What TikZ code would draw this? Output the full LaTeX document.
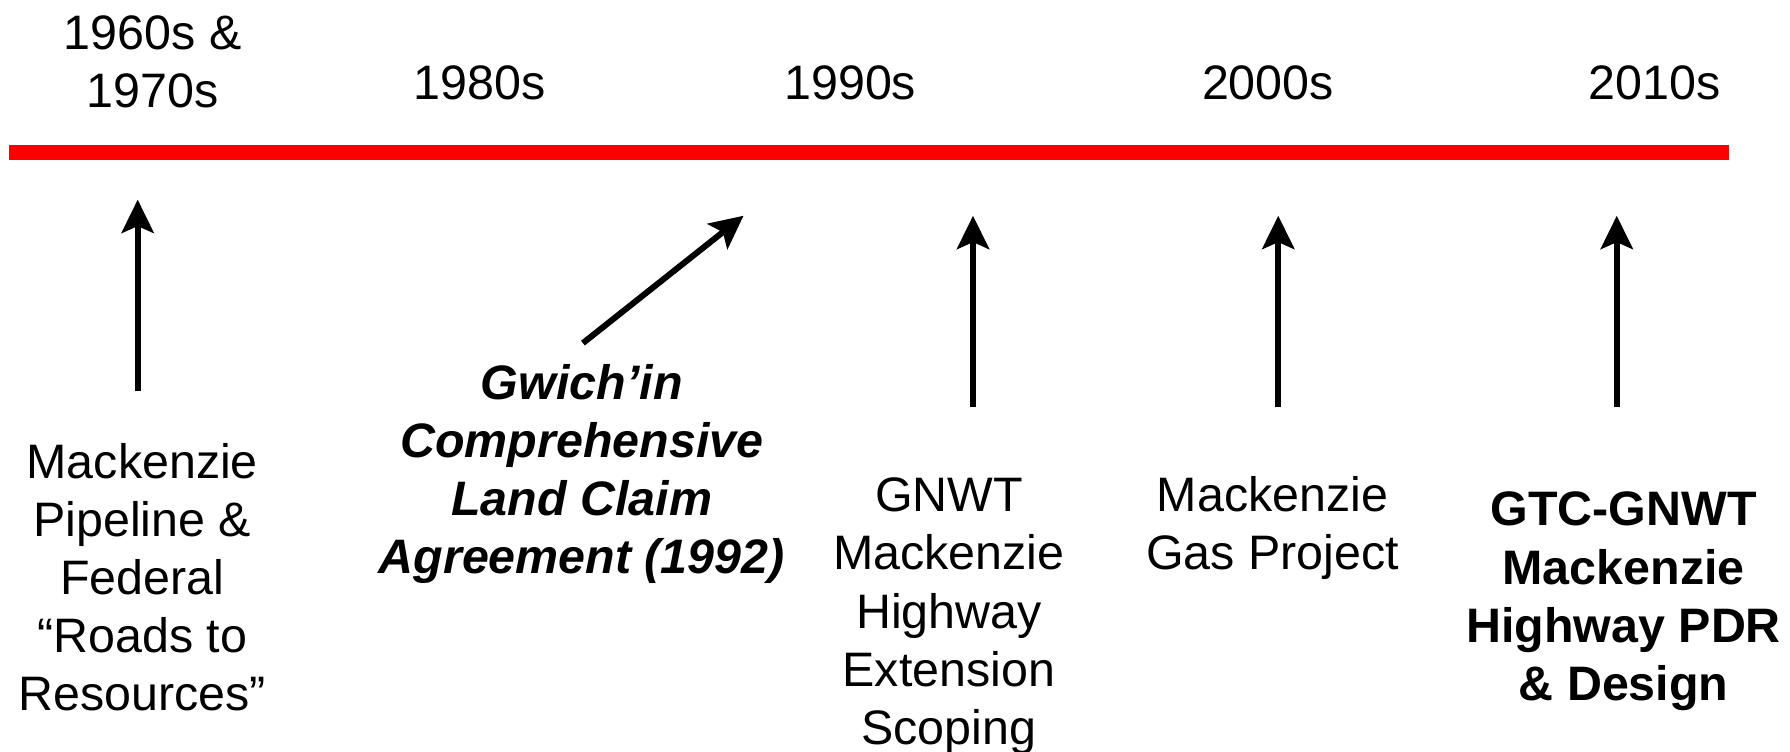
\documentclass[tikz,border=0pt]{standalone}
\usepackage{fontspec}
\setmainfont{Liberation Sans}
\usetikzlibrary{arrows.meta, positioning}
\definecolor{timelinered}{RGB}{255,0,0}
\tikzset{
    decade/.style={align=center, inner sep=0pt, font=\fontsize{12}{14.4}\selectfont},
    event/.style={align=center, inner sep=0pt, font=\fontsize{12}{14.4}\selectfont},
    arrow/.style={-{Stealth[length=2.9mm, width=2.8mm, inset=0.6mm]}, line width=1.5pt, black},
    timeline/.style={line width=0.13cm, timelinered},
}
\begin{document}
\begin{tikzpicture}

\useasboundingbox (0,0) rectangle (15.6,-6.545);

% Timeline
\coordinate (tl-start) at (0.08,-1.325);
\coordinate (tl-end) at (15.07,-1.325);
\draw[timeline] (tl-start) -- (tl-end);

% Decades
\node[decade] (dec1960) at (1.33,-0.54) {1960s \&\\1970s};
\node[decade] (dec1980) at (4.18,-0.72) {1980s};
\node[decade] (dec1990) at (7.41,-0.72) {1990s};
\node[decade] (dec2000) at (11.05,-0.72) {2000s};
\node[decade] (dec2010) at (14.42,-0.72) {2010s};

% Events
\node[event] (ev-pipeline) at (1.24,-5.03) {Mackenzie\\Pipeline \&\\Federal\\“Roads to\\Resources”};
\node[event, font=\fontsize{12}{14.4}\selectfont\bfseries\itshape] (ev-gwichin) at (5.07,-4.13) {Gwich’in\\Comprehensive\\Land Claim\\Agreement (1992)};
\node[event] (ev-scoping) at (8.27,-5.37) {GNWT\\Mackenzie\\Highway\\Extension\\Scoping};
\node[event] (ev-gas) at (11.09,-4.60) {Mackenzie\\Gas Project};
\node[event, font=\fontsize{12}{14.4}\selectfont\bfseries] (ev-design) at (14.15,-5.24) {GTC-GNWT\\Mackenzie\\Highway PDR\\\& Design};

% Arrow ends
\coordinate (tail1) at (1.20,-3.41);
\coordinate (tip1) at (1.20,-1.74);
\coordinate (tail2) at (5.08,-2.99);
\coordinate (tip2) at (6.48,-1.88);
\coordinate (tail3) at (8.48,-3.55);
\coordinate (tip3) at (8.48,-1.88);
\coordinate (tail4) at (11.14,-3.55);
\coordinate (tip4) at (11.14,-1.88);
\coordinate (tail5) at (14.09,-3.55);
\coordinate (tip5) at (14.09,-1.88);

% Arrows
\foreach \i in {1,...,5}
    \draw[arrow] (tail\i) -- (tip\i);

\end{tikzpicture}
\end{document}
